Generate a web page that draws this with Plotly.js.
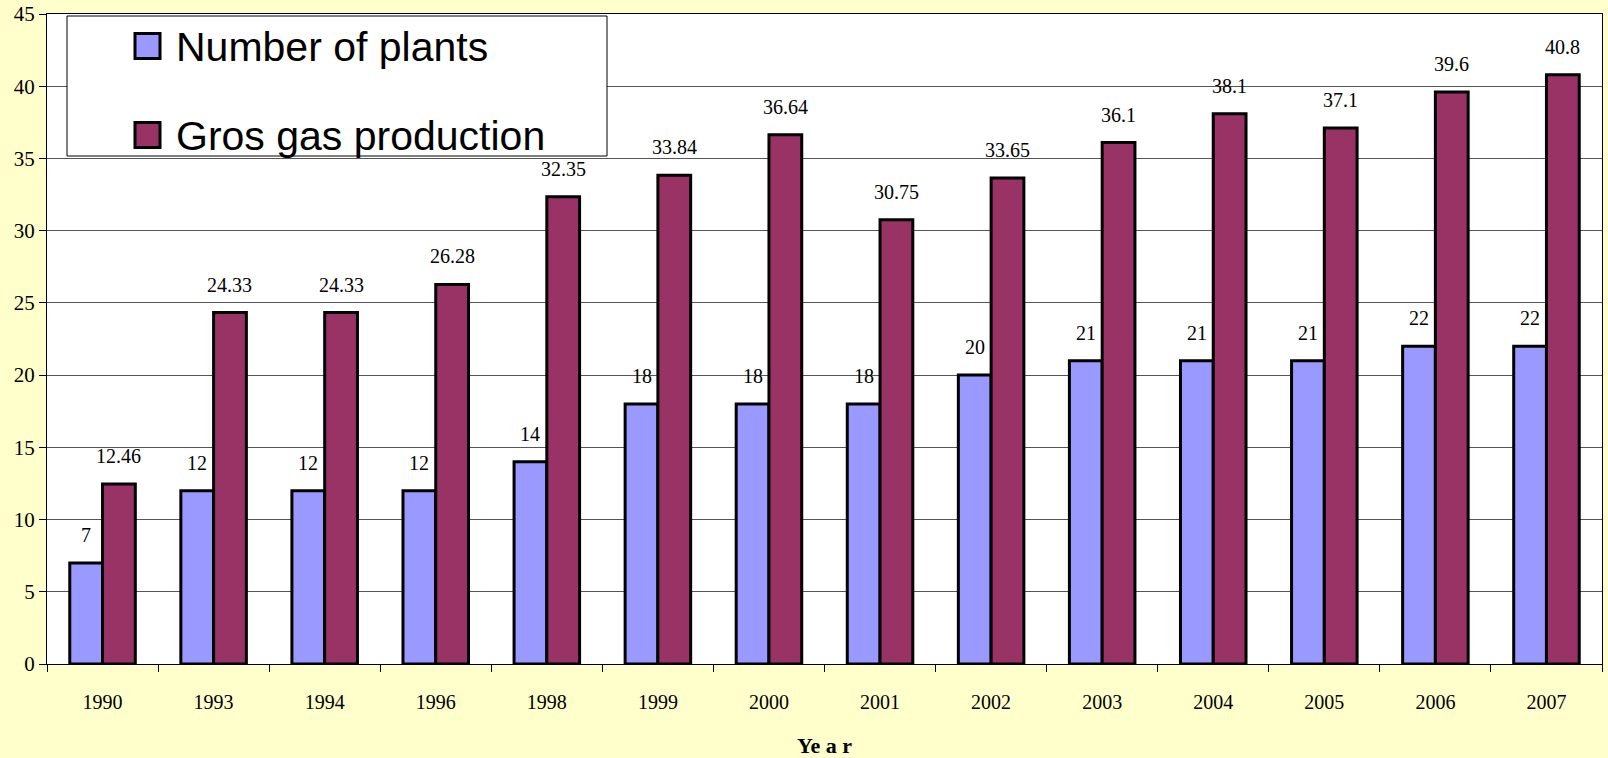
<!DOCTYPE html>
<html>
<head>
<meta charset="utf-8">
<script src="https://cdn.plot.ly/plotly-3.0.1.min.js"></script>
<style>
html,body{margin:0;padding:0;background:#FFFFCC;}
#chart{width:1608px;height:758px;}
</style>
</head>
<body>
<div id="chart"></div>
<script>
const years = ['1990','1993','1994','1996','1998','1999','2000','2001','2002','2003','2004','2005','2006','2007'];
const plants = [7,12,12,12,14,18,18,18,20,21,21,21,22,22];
const gasProduction = [12.46,24.33,24.33,26.28,32.35,33.84,36.64,30.75,33.65,36.1,38.1,37.1,39.6,40.8];
const seriesNames = ['Number of plants','Gros gas production'];
const seriesColors = ['#9999FF','#993366'];
const xTitle = 'Ye a r';

const W = 1608, H = 758;
const M = {l:47, r:6, t:14, b:94};
const PW = W - M.l - M.r, PH = H - M.t - M.b;
const px = x => (x - M.l) / PW;
const py = y => (H - M.b - y) / PH;

const bargap = 0.41;
const barW = (1 - bargap) / 2;

const serif = 'Liberation Serif, Times New Roman, serif';
const sans = 'Liberation Sans, Arial, sans-serif';

const traces = [plants, gasProduction].map((vals, k) => ({
  type: 'bar',
  name: seriesNames[k],
  x: years,
  y: vals,
  marker: {color: seriesColors[k], line: {color: '#000000', width: 3}},
  showlegend: false,
  hoverinfo: 'x+y+name'
}));

const annotations = [];
[plants, gasProduction].forEach((vals, k) => {
  vals.forEach((v, i) => {
    annotations.push({
      xref: 'x', yref: 'y',
      x: i + (k === 0 ? -barW / 2 : barW / 2),
      y: v,
      text: String(v),
      showarrow: false,
      xanchor: 'center', yanchor: 'middle',
      yshift: 28,
      font: {family: serif, size: 20, color: '#000000'}
    });
  });
});

// legend (manual, to match the large swatches)
const legendItemsY = [46, 135];
const shapes = [{
  type: 'rect', xref: 'paper', yref: 'paper', layer: 'above',
  x0: px(67), x1: px(607), y0: py(16), y1: py(156),
  fillcolor: '#FFFFFF', line: {color: '#000000', width: 1}
}];
seriesNames.forEach((n, k) => {
  const cy = legendItemsY[k];
  shapes.push({
    type: 'rect', xref: 'paper', yref: 'paper', layer: 'above',
    x0: px(135), x1: px(160), y0: py(cy - 12.5), y1: py(cy + 12.5),
    fillcolor: seriesColors[k], line: {color: '#000000', width: 3}
  });
  annotations.push({
    xref: 'paper', yref: 'paper',
    x: px(174), y: py(cy + 1),
    xanchor: 'left', yanchor: 'middle',
    text: n, showarrow: false,
    font: {family: sans, size: 41, color: '#000000'}
  });
});

const layout = {
  width: W, height: H,
  margin: M,
  paper_bgcolor: '#FFFFCC',
  plot_bgcolor: '#FFFFFF',
  barmode: 'group',
  bargap: bargap,
  bargroupgap: 0,
  showlegend: false,
  xaxis: {
    type: 'category',
    showline: true, linecolor: '#000000', linewidth: 1, mirror: true,
    ticks: 'outside', ticklen: 7, tickcolor: '#000000', tickwidth: 1,
    tickson: 'boundaries',
    ticklabelstandoff: 20,
    showgrid: false,
    tickfont: {family: serif, size: 20, color: '#000000'},
    title: {text: xTitle, font: {family: serif, size: 22, color: '#000000', weight: 'bold'}, standoff: 26},
    automargin: false
  },
  yaxis: {
    range: [0, 45],
    dtick: 5,
    showline: true, linecolor: '#000000', linewidth: 1, mirror: true,
    ticks: 'outside', ticklen: 7, tickcolor: '#000000', tickwidth: 1,
    showgrid: true, gridcolor: '#555555', gridwidth: 1,
    zeroline: false,
    tickfont: {family: serif, size: 21, color: '#000000'},
    automargin: false
  },
  shapes: shapes,
  annotations: annotations,
  font: {family: serif, color: '#000000'}
};

Plotly.newPlot('chart', traces, layout, {displayModeBar: false, staticPlot: true});
</script>
</body>
</html>
